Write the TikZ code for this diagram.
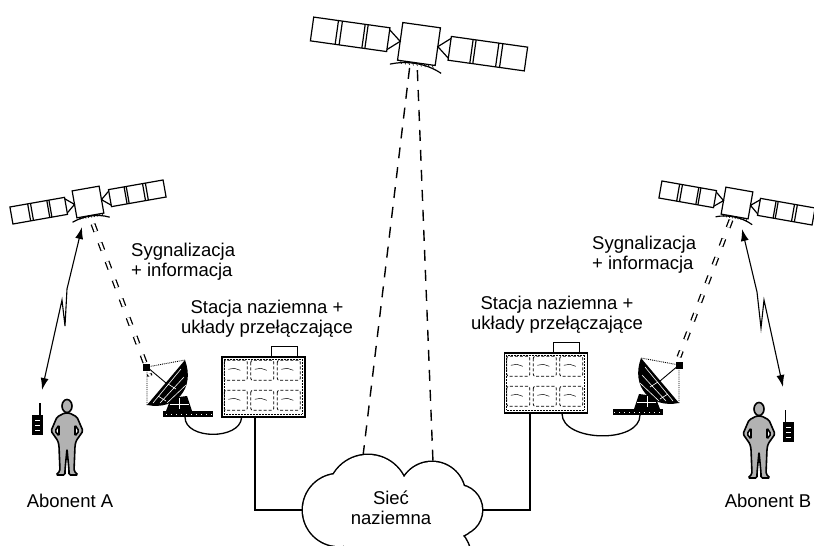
\documentclass[tikz,border=0pt]{standalone}
\usepackage{fontspec}
\setmainfont{Liberation Sans}
\usetikzlibrary{arrows.meta,calc}

\tikzset{
  % satellite: square body, two solar wings, antenna dish below
  sat/.pic={
    \draw[ink,fill=white] (-19,-19) rectangle (19,19);
    \foreach \s in {1,-1}{
      \begin{scope}[xscale=\s]
        \draw[ink,fill=white] (-108,-12) rectangle (-31,12);
        \draw[ink] (-31,-10) -- (-19,0) -- (-31,10);
        \draw[ink] (-83,-12) -- (-83,12) (-79,-12) -- (-79,12)
                   (-56,-12) -- (-56,12) (-53,-12) -- (-53,12);
      \end{scope}
    }
    \draw[ink] (-26,-24) .. controls (-10,-18) and (10,-18) .. (26,-26);
    \foreach \x in {-16,-12,...,16} \draw[line width=0.6pt] (\x,-19) -- (\x+1.5,-22);
    \coordinate (-botL) at (-6,-25);
    \coordinate (-botR) at (2,-26);
  },
  % standing person, hands on hips
  person/.pic={
    \filldraw[line width=1.6pt,fill=black!30] (0,69) ellipse (5 and 6.5);
    \filldraw[line width=1.6pt,fill=black!30,even odd rule,rounded corners=1.5pt]
      (-2.5,62) -- (-10,58) -- (-16,44) -- (-9,34) -- (-8,29) -- (-7,4) -- (-11,0)
      -- (-2,0) -- (-2,5) -- (0,26) -- (2,5) -- (2,0) -- (11,0) -- (7,4)
      -- (8,29) -- (9,34) -- (16,44) -- (10,58) -- (2.5,62) -- cycle
      (-8,50) -- (-12,44) -- (-8,39) -- cycle
      (8,50) -- (12,44) -- (8,39) -- cycle;
  },
  % hand-held radio
  phone/.pic={
    \fill (-5.5,0) rectangle (5.5,20);
    \draw[line width=1.3pt] (2.5,20) -- (2.5,32);
    \foreach \y in {4,9,14} \fill[white] (-2.5,\y) rectangle (2.5,\y+1.5);
  },
  % ground station dish on its slab
  dish/.pic={
    \fill (-25,-3) rectangle (25,3);
    \foreach \x in {-22,-17,...,23} \fill[white] (\x,-1) rectangle (\x+1.2,0.5);
    \fill (-17,16) -- (-22,3) -- (4,3) -- (-1,18) -- cycle;
    \draw[white,line width=0.6pt] (-9,16) -- (-9,5) (-18,10) -- (1,10);
    \fill (-41,9) .. controls (-11.8,3.3) and (7.4,25.9) .. (-3,54) -- cycle;
    \draw[white,line width=0.6pt] (-35,11) -- (-7,45) (-28,11) -- (-4,37)
      (-21,11) -- (-2,29) (-30,18) -- (-22,13) (-20,30) -- (-12,25);
    \draw[line width=0.9pt,densely dotted] (-41,9) -- (-41,47) -- (-3,54);
    \draw[line width=0.9pt] (-22,31) -- (-41,47);
    \fill (-45,43) rectangle (-38,50);
  }
}

\begin{document}
\begin{tikzpicture}[x=1pt,y=1pt,
  ink/.style={line width=1.2pt},
  lbl/.style={font=\fontsize{18.5}{20}\selectfont, inner sep=0pt, align=center},
  bldg/.style={draw, line width=1.4pt, minimum width=83pt, minimum height=60pt,
    inner sep=0pt, fill=white},
  cellbox/.style={densely dashed, line width=0.8pt, rounded corners=2pt},
  wire/.style={line width=1.3pt},
  beam/.style={line width=1.4pt, dash pattern=on 11pt off 9pt},
  sig/.style={line width=1.3pt, double distance=2.4pt, dash pattern=on 8pt off 12pt},
  radio/.style={line width=1.1pt, {Latex[length=12pt,width=8pt]}-{Latex[length=12pt,width=8pt]}},
]
\useasboundingbox (0,0) rectangle (814,-546);
\fill[white] (0,0) rectangle (814,-546);
\clip (0,0) rectangle (814,-546);

% satellites
\pic[rotate=-8] (satC) at (419,-44) {sat};
\pic[rotate=10,scale=0.72] (satA) at (88,-202) {sat};
\pic[rotate=-10,scale=0.72] (satB) at (737,-203) {sat};

% ground stations (buildings)
\node[bldg] (gsA) at (263.5,-387) {};
\node[bldg] (gsB) at (546,-383) {};
\foreach \g in {gsA,gsB}{
  \begin{scope}[shift={(\g.north west)}]
    \draw[ink,fill=white] (50,0) rectangle (76,10);
    \draw[line width=0.5pt,densely dotted] (2.5,-2.5) rectangle (80.5,-57.5);
    \foreach \cx in {3,29.5,56}{
      \foreach \cy in {-4,-34}{
        \draw[cellbox] (\cx,\cy) rectangle (\cx+23,\cy-20);
        \draw[line width=0.5pt] (\cx+4,\cy-9) -- (\cx+10,\cy-8) -- (\cx+16,\cy-10);
      }
    }
  \end{scope}
}

% dishes and cables to the buildings
\pic (dishA) at (188,-414) {dish};
\pic[xscale=-1] (dishB) at (638,-412) {dish};
\coordinate (cabA) at (185,-417);
\coordinate (cabB) at (640,-415);
\draw[wire] (cabA) .. controls (185,-440) and (240,-440) .. ($(gsA.south west)!0.24!(gsA.south east)$);
\draw[wire] ($(gsB.south west)!0.69!(gsB.south east)$) .. controls (562,-442) and (640,-444) .. (cabB);

% subscribers
\pic (userA) at (67,-475) {person};
\pic (userB) at (759,-478) {person};
\pic (radA) at (37.5,-435) {phone};
\pic[xscale=-1] (radB) at (788,-442) {phone};

% cloud boundary points
\coordinate (cloudW) at (303,-510);
\coordinate (cloudE) at (482,-510);
\coordinate (cloudN1) at (363,-456);
\coordinate (cloudN2) at (433,-462);

% terrestrial links
\draw[wire] ($(gsA.south west)!0.4!(gsA.south east)$) |- (cloudW);
\draw[wire] ($(gsB.south west)!0.31!(gsB.south east)$) |- (cloudE);

% links from the central satellite
\draw[beam] (satC-botL) -- (cloudN1);
\draw[beam] (satC-botR) -- (cloudN2);

% signalling + traffic links
\coordinate (sigA0) at (93,-224);
\coordinate (sigA1) at (150,-376);
\coordinate (sigB0) at (731,-220);
\coordinate (sigB1) at (679,-357);
\draw[sig] (sigA0) -- (sigA1);
\draw[sig] (sigB0) -- (sigB1);

% radio links to the subscribers
\coordinate (upA) at (82,-227);
\coordinate (dnA) at (42,-390);
\coordinate (upB) at (742,-229);
\coordinate (dnB) at (783,-387);
\draw[radio] (upA) -- (67,-289) -- (65,-326) -- (62,-300) -- (dnA);
\draw[radio] (upB) -- (757,-292) -- (761,-328) -- (764,-300) -- (dnB);

% cloud: union of circles
\begin{scope}
  \def\cloudcircles{
    (339,-510) circle (36)
    (368,-495) circle (40)
    (432,-495) circle (33)
    (457,-510) circle (25)
    (455,-515) circle (22)
    (440,-555) circle (30)
    (415,-565) circle (28)
    (372,-548) circle (28)
    (395,-520) circle (40)
  }
  \draw[line width=3pt] \cloudcircles;
  \fill[white] \cloudcircles;
\end{scope}

% labels
\node[lbl, align=left, anchor=west] (sigAtxt) at (131,-262) {Sygnalizacja\\+ informacja};
\node[lbl, align=left, anchor=west] (sigBtxt) at (592,-255) {Sygnalizacja\\+ informacja};
\node[lbl] (stA) at (267,-319) {Stacja naziemna +\\układy przełączające};
\node[lbl] (stB) at (557,-315) {Stacja naziemna +\\układy przełączające};
\node[lbl] (net) at (391,-508) {Sieć\\naziemna};
\node[lbl] (abA) at (70,-501) {Abonent A};
\node[lbl] (abB) at (768,-501) {Abonent B};
\end{tikzpicture}
\end{document}
